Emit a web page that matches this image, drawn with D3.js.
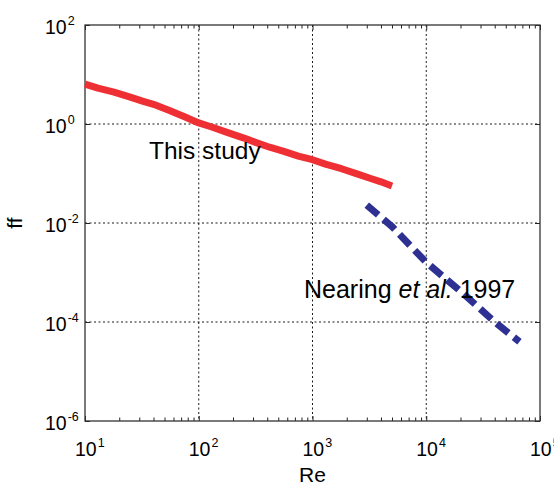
<!DOCTYPE html>
<html>
<head>
<meta charset="utf-8">
<script src="https://cdn.jsdelivr.net/npm/d3@7"></script>
<style>
  body { margin: 0; background: #fff; }
  text { font-family: "Liberation Sans", Arial, Helvetica, sans-serif; fill: #000; }
</style>
</head>
<body>
<svg></svg>
<script>
const svg_width = 554;
const svg_height = 486;
const margin = { top: 25, right: 14, bottom: 65, left: 85 };
const width = svg_width - margin.left - margin.right;
const height = svg_height - margin.top - margin.bottom;

// "This study" curve
const studyRe = [10, 13, 18, 25, 32, 40, 56, 75, 100, 130, 180, 250, 320, 420, 560, 750, 1000, 1300, 1800, 2500, 3200, 4000, 5000];
const studyFf = [6.4, 5.3, 4.4, 3.5, 2.9, 2.5, 1.85, 1.4, 1.05, 0.87, 0.67, 0.52, 0.42, 0.34, 0.28, 0.225, 0.19, 0.155, 0.125, 0.097, 0.08, 0.068, 0.056];

// Nearing et al. 1997
const nearingRe = [3000, 5000, 10000, 20000, 40000, 66000];
const nearingFf = [0.023, 0.0085, 0.0016, 0.00042, 0.0001, 0.00004];

const xTicks = [1e1, 1e2, 1e3, 1e4, 1e5];
const xExp = ["1", "2", "3", "4", "5"];
const yTicks = [1e-6, 1e-4, 1e-2, 1e0, 1e2];
const yExp = ["-6", "-4", "-2", "0", "2"];

const svg = d3.select("svg")
    .attr("width", svg_width)
    .attr("height", svg_height)
    .append("g")
    .attr("transform", `translate(${margin.left}, ${margin.top})`);

const xScale = d3.scaleLog().domain([1e1, 1e5]).range([0, width]);
const yScale = d3.scaleLog().domain([1e-6, 1e2]).range([height, 0]);

// minor ticks for the x axis
const xMinor = [];
for (let e = 1; e < 5; e++) {
    for (let m = 2; m <= 9; m++) xMinor.push(m * Math.pow(10, e));
}

// grid
svg.append("g").selectAll("line")
    .data(xTicks.slice(1, -1))
    .enter().append("line")
    .attr("x1", d => xScale(d)).attr("x2", d => xScale(d))
    .attr("y1", 0).attr("y2", height)
    .attr("stroke", "#000").attr("stroke-width", 0.9)
    .attr("stroke-dasharray", "2,2.5");

svg.append("g").selectAll("line")
    .data(yTicks.slice(1, -1))
    .enter().append("line")
    .attr("y1", d => yScale(d)).attr("y2", d => yScale(d))
    .attr("x1", 0).attr("x2", width)
    .attr("stroke", "#000").attr("stroke-width", 0.9)
    .attr("stroke-dasharray", "2,2.5");

// axes (ticks pointing inward)
function styleAxis(g) {
    g.select(".domain").remove();
    g.selectAll("line").attr("stroke", "#222").attr("stroke-width", 1);
}
svg.append("g").attr("transform", `translate(0, ${height})`)
    .call(d3.axisBottom(xScale).tickValues(xMinor).tickSize(-3.5).tickFormat(""))
    .call(styleAxis);
svg.append("g")
    .call(d3.axisTop(xScale).tickValues(xMinor).tickSize(-3.5).tickFormat(""))
    .call(styleAxis);
svg.append("g").attr("transform", `translate(0, ${height})`)
    .call(d3.axisBottom(xScale).tickValues(xTicks).tickSize(-5).tickFormat(""))
    .call(styleAxis);
svg.append("g")
    .call(d3.axisTop(xScale).tickValues(xTicks).tickSize(-5).tickFormat(""))
    .call(styleAxis);
svg.append("g")
    .call(d3.axisLeft(yScale).tickValues(yTicks).tickSize(-5).tickFormat(""))
    .call(styleAxis);
svg.append("g").attr("transform", `translate(${width}, 0)`)
    .call(d3.axisRight(yScale).tickValues(yTicks).tickSize(-5).tickFormat(""))
    .call(styleAxis);

// frame
svg.append("rect")
    .attr("x", 0).attr("y", 0)
    .attr("width", width).attr("height", height)
    .attr("fill", "none")
    .attr("stroke", "#333")
    .attr("stroke-width", 1.3);

// tick labels with superscripts
const xLab = svg.append("g").selectAll("text")
    .data(xTicks)
    .enter().append("text")
    .attr("x", d => xScale(d) - 10)
    .attr("y", height + 35)
    .attr("font-size", 19.5);
xLab.append("tspan").text("10");
xLab.append("tspan")
    .attr("dx", 1)
    .attr("dy", -9)
    .attr("font-size", 12.5)
    .text((d, i) => xExp[i]);

const yLab = svg.append("g").selectAll("text")
    .data(yTicks)
    .enter().append("text")
    .attr("x", -40)
    .attr("y", d => yScale(d) + 8.5)
    .attr("font-size", 19.5);
yLab.append("tspan").text("10");
yLab.append("tspan")
    .attr("dx", 1)
    .attr("dy", -9)
    .attr("font-size", 12.5)
    .text((d, i) => yExp[i]);

// axis titles
svg.append("text")
    .attr("x", xScale(1e3))
    .attr("y", height + 61)
    .attr("text-anchor", "middle")
    .attr("font-size", 21)
    .text("Re");

svg.append("text")
    .attr("transform", `translate(-63, ${yScale(1e-2)}) rotate(-90)`)
    .attr("text-anchor", "middle")
    .attr("font-size", 21)
    .text("ff");

// curves
const line = d3.line()
    .x(d => xScale(d[0]))
    .y(d => yScale(d[1]));

svg.append("path")
    .datum(d3.zip(studyRe, studyFf))
    .attr("d", line)
    .attr("fill", "none")
    .attr("stroke", "#ee3035")
    .attr("stroke-width", 7)
    .attr("stroke-linejoin", "round");

svg.append("path")
    .datum(d3.zip(nearingRe, nearingFf))
    .attr("d", line)
    .attr("fill", "none")
    .attr("stroke", "#2e3192")
    .attr("stroke-width", 7)
    .attr("stroke-dasharray", "15,7");

// annotations
svg.append("text")
    .attr("x", 149 - margin.left)
    .attr("y", 159 - margin.top)
    .attr("font-size", 24.5)
    .text("This study");

const nt = svg.append("text")
    .attr("x", 304 - margin.left)
    .attr("y", 298 - margin.top)
    .attr("font-size", 25);
nt.append("tspan").text("Nearing ");
nt.append("tspan").attr("font-style", "italic").text("et al.");
nt.append("tspan").text(" 1997");
</script>
</body>
</html>
